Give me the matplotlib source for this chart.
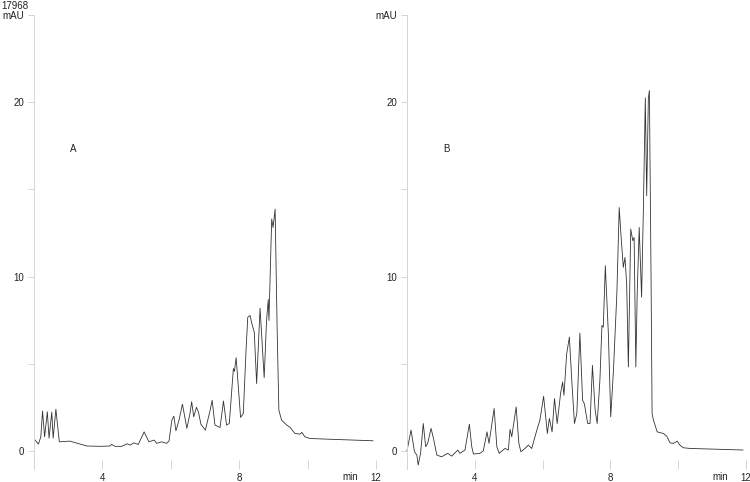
import matplotlib
matplotlib.use("Agg")
import matplotlib.pyplot as plt
import numpy as np

plt.rcParams['font.family'] = ['Liberation Sans', 'DejaVu Sans']

# chromatogram A (time in min, absorbance in mAU)
time_a = [2.03, 2.13, 2.20, 2.25, 2.31, 2.39, 2.44, 2.52, 2.56, 2.64, 2.74, 3.05, 3.35, 3.54,
          3.93, 4.22, 4.27, 4.37, 4.56, 4.73, 4.81, 4.92, 5.05, 5.22, 5.36, 5.51, 5.59, 5.73,
          5.88, 5.95, 6.03, 6.09, 6.15, 6.24, 6.34, 6.39, 6.47, 6.56, 6.61, 6.67, 6.75, 6.81,
          6.88, 7.01, 7.15, 7.21, 7.29, 7.44, 7.54, 7.63, 7.71, 7.83, 7.86, 7.91, 7.96, 8.04,
          8.12, 8.20, 8.25, 8.32, 8.37, 8.44, 8.51, 8.61, 8.73, 8.80, 8.85, 8.87, 8.95, 8.99,
          9.05, 9.11, 9.16, 9.24, 9.39, 9.49, 9.63, 9.78, 9.83, 9.92, 10.07, 10.75, 11.91]
signal_a = [0.63, 0.40, 0.82, 2.29, 0.82, 2.25, 0.74, 2.23, 0.74, 2.40, 0.53, 0.57, 0.40, 0.29,
            0.27, 0.29, 0.38, 0.27, 0.27, 0.42, 0.34, 0.47, 0.38, 1.10, 0.53, 0.63, 0.44, 0.53,
            0.44, 0.59, 1.77, 2.00, 1.16, 1.77, 2.69, 2.15, 1.30, 2.15, 2.83, 1.96, 2.51, 2.23,
            1.54, 1.20, 2.34, 2.91, 1.49, 1.35, 2.87, 1.49, 1.58, 4.73, 4.57, 5.35, 4.06, 1.93,
            2.15, 5.77, 7.67, 7.77, 7.30, 6.82, 3.87, 8.19, 4.21, 7.49, 8.69, 7.49, 13.30, 12.82,
            13.87, 6.91, 2.34, 1.77, 1.49, 1.35, 1.01, 0.97, 1.07, 0.82, 0.72, 0.67, 0.59]

# chromatogram B
time_b = [2.00, 2.12, 2.22, 2.29, 2.33, 2.40, 2.48, 2.55, 2.61, 2.71, 2.78, 2.88, 3.02, 3.20,
          3.32, 3.50, 3.56, 3.71, 3.84, 3.91, 3.96, 4.15, 4.25, 4.36, 4.42, 4.57, 4.65, 4.72,
          4.89, 4.99, 5.04, 5.09, 5.22, 5.30, 5.36, 5.48, 5.58, 5.68, 5.83, 5.92, 6.03, 6.14,
          6.20, 6.28, 6.35, 6.43, 6.53, 6.59, 6.63, 6.71, 6.79, 6.86, 6.94, 7.01, 7.10, 7.18,
          7.23, 7.33, 7.40, 7.47, 7.55, 7.61, 7.69, 7.75, 7.79, 7.85, 7.94, 8.01, 8.09, 8.19,
          8.26, 8.31, 8.38, 8.43, 8.48, 8.53, 8.60, 8.66, 8.70, 8.75, 8.79, 8.85, 8.92, 8.97,
          9.03, 9.07, 9.12, 9.15, 9.20, 9.23, 9.27, 9.38, 9.56, 9.66, 9.76, 9.86, 9.97, 10.05,
          10.15, 10.35, 11.91]
signal_b = [0.02, 1.20, -0.04, -0.23, -0.80, -0.13, 1.58, 0.25, 0.44, 1.30, 0.73, -0.23, -0.33,
            -0.13, -0.29, 0.06, -0.13, 0.06, 1.54, 0.25, -0.17, -0.13, 0.00, 1.10, 0.44, 2.44,
            0.25, -0.13, 0.15, 0.06, 1.24, 0.82, 2.53, 0.44, -0.04, 0.15, 0.34, 0.15, 1.20, 1.77,
            3.14, 1.01, 1.87, 1.10, 3.01, 1.58, 3.30, 3.96, 3.20, 5.58, 6.53, 4.06, 1.58, 2.15,
            6.76, 2.91, 2.72, 1.58, 1.58, 4.91, 2.34, 1.58, 4.06, 7.20, 7.10, 10.63, 6.73, 1.96,
            4.63, 9.01, 13.96, 12.44, 10.53, 11.10, 9.58, 4.82, 12.73, 12.06, 12.25, 4.82, 9.01,
            12.82, 8.82, 13.58, 20.25, 14.63, 20.25, 20.67, 9.77, 2.15, 1.77, 1.10, 1.01, 0.86,
            0.47, 0.44, 0.57, 0.34, 0.19, 0.15, 0.06]

y_ticks = [0, 10, 20, 25]
y_tick_labels = ["0", "10", "20", "mAU"]
x_ticks = [4, 8, 12]
panel_labels = ["A", "B"]

fig = plt.figure(figsize=(7.5, 4.82), dpi=100)
ax_a = fig.add_axes([34 / 750, 13.5 / 482, 342 / 750, 453.5 / 482])
ax_b = fig.add_axes([407 / 750, 13.5 / 482, 339 / 750, 453.5 / 482])

grey = "#d4d4d4"
for ax, t, s, lab in [(ax_a, time_a, signal_a, panel_labels[0]),
                      (ax_b, time_b, signal_b, panel_labels[1])]:
    ax.plot(t, s, color="#333333", lw=0.6, clip_on=False)
    ax.set_xlim(2, 12)
    ax.set_ylim(-1, 25)
    for side in ["top", "right", "bottom"]:
        ax.spines[side].set_visible(False)
    ax.spines["left"].set_color(grey)
    ax.spines["left"].set_linewidth(0.7)

    ax.set_yticks(y_ticks, labels=y_tick_labels)
    ax.set_yticks([5, 15], minor=True)
    ax.set_xticks(x_ticks)
    ax.set_xticks([2, 6, 10], minor=True)
    ax.tick_params(axis="y", which="both", color=grey, length=4, width=0.7, pad=3,
                   labelsize=7, labelcolor="#222222")
    ax.tick_params(axis="x", which="both", direction="in", color=grey, length=6.5,
                   width=0.7, pad=3, labelsize=7, labelcolor="#222222")

    ax.text(3.15, 17.3, lab, fontsize=7, ha="center", va="center", color="#222222")
    ax.text(11.25, -0.019, "min", transform=ax.get_xaxis_transform(), fontsize=7,
            ha="center", va="center", color="#222222")

fig.text(1 / 750, 1 - 1 / 482, "17968", fontsize=7, ha="left", va="top", color="#222222")

fig.savefig("out.png", dpi=100)
